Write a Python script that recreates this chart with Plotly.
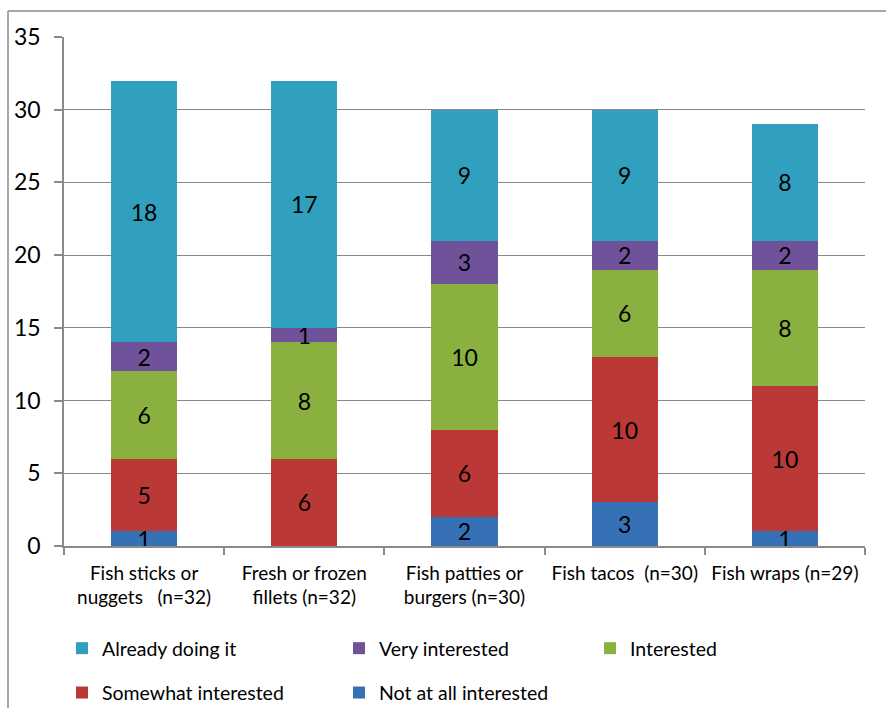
import plotly.graph_objects as go

categories = [
    "Fish sticks or<br>nuggets&nbsp;&nbsp;&nbsp;(n=32)",
    "Fresh or frozen<br>fillets (n=32)",
    "Fish patties or<br>burgers (n=30)",
    "Fish tacos&nbsp;&nbsp;(n=30)",
    "Fish wraps (n=29)",
]
not_at_all = [1, 0, 2, 3, 1]
somewhat = [5, 6, 6, 10, 10]
interested = [6, 8, 10, 6, 8]
very = [2, 1, 3, 2, 2]
already = [18, 17, 9, 9, 8]

# name, values, colour, legend column, row within the column
series = [
    ("Not at all interested", not_at_all, "#3771B5", "legend2", 2),
    ("Somewhat interested", somewhat, "#BA3836", "legend", 2),
    ("Interested", interested, "#8AB13F", "legend3", 1),
    ("Very interested", very, "#6F529A", "legend2", 1),
    ("Already doing it", already, "#30A0BE", "legend", 1),
]

FONT = "Lato, Liberation Sans, sans-serif"

fig = go.Figure()
for name, vals, color, leg, rank in series:
    fig.add_trace(go.Bar(
        name=name,
        x=categories,
        y=vals,
        marker=dict(color=color, line=dict(width=0)),
        text=[str(v) if v else "" for v in vals],
        textposition="inside",
        insidetextanchor="middle",
        textangle=0,
        constraintext="none",
        textfont=dict(color="black", size=23, family=FONT),
        legend=leg,
        legendgroup=name,
        legendrank=rank,
        hoverinfo="skip",
    ))

W, H = 886, 708
L, R, T, B = 64, 21, 37, 162
pw, ph = W - L - R, H - T - B

def px_x(x):
    return (x - L) / pw

def px_y(y):
    return (H - B - y) / ph

legend_common = dict(
    orientation="v",
    font=dict(family=FONT, size=19.5, color="black"),
    bgcolor="rgba(0,0,0,0)",
    borderwidth=0,
    tracegroupgap=16,
    traceorder="grouped",
    itemwidth=30,
    xanchor="left",
    yanchor="top",
)

fig.update_layout(
    width=W, height=H,
    margin=dict(l=L, r=R, t=T, b=B, pad=0, autoexpand=False),
    paper_bgcolor="white",
    plot_bgcolor="white",
    barmode="stack",
    bargap=0.5875,
    font=dict(family=FONT, color="black"),
    uniformtext=dict(minsize=23, mode="show"),
    xaxis=dict(
        type="category",
        showline=True, linecolor="#8a8a8a", linewidth=1.5,
        ticks="outside", tickson="boundaries", ticklen=7,
        tickcolor="#8a8a8a", tickwidth=1.5,
        showgrid=False,
        tickfont=dict(family=FONT, size=19, color="black"),
        ticklabelstandoff=9,
    ),
    yaxis=dict(
        range=[0, 35], dtick=5,
        showline=True, linecolor="#8a8a8a", linewidth=1.5,
        ticks="outside", ticklen=8, tickcolor="#8a8a8a", tickwidth=1.5,
        showgrid=True, gridcolor="#8a8a8a", gridwidth=1.3,
        zeroline=False,
        tickfont=dict(family=FONT, size=23, color="black"),
        ticklabelstandoff=9,
    ),
    legend=dict(x=px_x(62), y=px_y(629), **legend_common),
    legend2=dict(x=px_x(339), y=px_y(629), **legend_common),
    legend3=dict(x=px_x(590), y=px_y(629), **legend_common),
    shapes=[
        dict(type="line", xref="paper", yref="paper",
             x0=px_x(8), x1=px_x(900), y0=px_y(11), y1=px_y(11),
             line=dict(color="#8a8a8a", width=1.5)),
        dict(type="line", xref="paper", yref="paper",
             x0=px_x(8), x1=px_x(8), y0=px_y(11), y1=px_y(720),
             line=dict(color="#8a8a8a", width=1.5)),
    ],
)

fig.write_html("out.html")
